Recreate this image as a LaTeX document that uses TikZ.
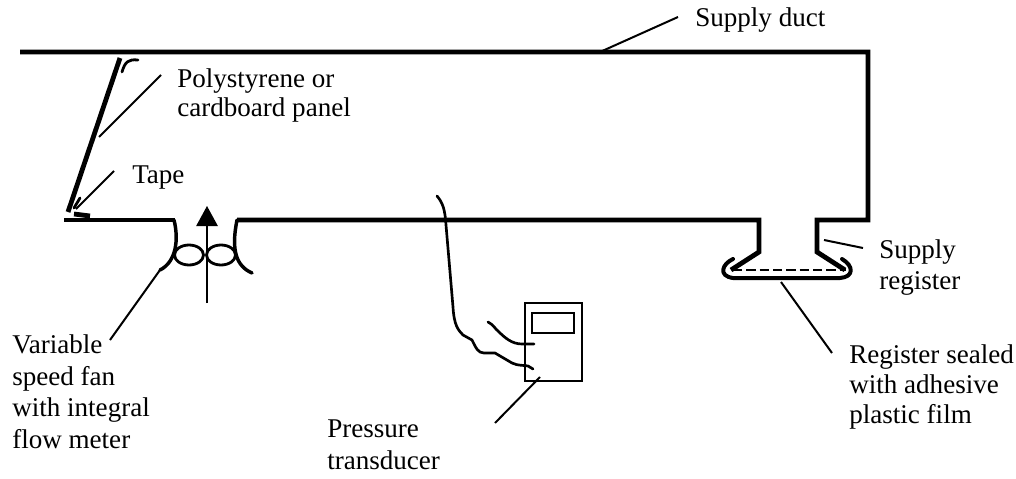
\documentclass[tikz,border=0pt]{standalone}
\usepackage{fontspec}
\setmainfont{Liberation Serif}
\usetikzlibrary{arrows.meta}
\tikzset{
  wall/.style={line width=3.6pt,line join=miter,line cap=butt},
  thin wall/.style={line width=2.1pt,line cap=round,line join=round},
  leader/.style={line width=1.5pt},
  wire/.style={line width=2pt,line join=round,line cap=round},
  lab/.style={anchor=base west,inner sep=0pt,align=left,font=\fontsize{20.3}{23.6}\selectfont},
}
\begin{document}
\begin{tikzpicture}[x=0.75pt,y=-0.75pt]
\useasboundingbox (0,0) rectangle (1016,478);
% labels
\node[lab] (duct) at (695,27) {Supply duct};
\node[lab,font=\fontsize{20.3}{21.75}\selectfont] (panel) at (177,116) {Polystyrene or\\cardboard panel};
\node[lab] (tape) at (132,183) {Tape};
\node[lab] (fan) at (12,448) {Variable\\speed fan\\with integral\\flow meter};
\node[lab,font=\fontsize{20.3}{24}\selectfont] (press) at (327,469) {Pressure\\transducer};
\node[lab,font=\fontsize{20.3}{23.25}\selectfont] (register) at (879,289) {Supply\\register};
\node[lab,font=\fontsize{20.3}{22.5}\selectfont] (sealed) at (849,423) {Register sealed\\with adhesive\\plastic film};
% duct
\draw[wall] (20,52) -- (868,52) -- (868,220) -- (817,220) -- (817,252) -- (845,270);
\draw[wall] (64,220) -- (175,220);
\draw[wall] (237,220) -- (759,220) -- (759,252) -- (731,270);
% register
\draw[thin wall,line width=3pt] (733,259) .. controls (722,264) and (718,276) .. (733,278) -- (840,278) .. controls (854,277) and (854,266) .. (842,259);
\draw[line width=2pt,dash pattern=on 7pt off 3pt] (733,270) -- (846,270);
% panel
\draw[wall] (120,58) -- (68,212);
\draw[thin wall] (138,60) .. controls (128,59) and (125,62) .. (122,72);
\draw[thin wall] (80,198) -- (74,208);
\draw[wall] (74,214) -- (90,216);
% fan
\draw[thin wall,line width=2.6pt] (174,220) .. controls (179,240) and (176,262) .. (160,270);
\draw[thin wall,line width=2.6pt] (237,220) .. controls (231,250) and (236,266) .. (252,273);
\draw[thin wall] (189,255) ellipse (14.5 and 10);
\draw[thin wall] (221,255) ellipse (14.5 and 10);
\coordinate (fanTail) at (207,303);
\coordinate (fanTip) at (207,206);
\draw[line width=1.3pt,-{Triangle[length=15pt,width=16pt]}] (fanTail) -- (fanTip);
% transducer
\draw[line width=1.9pt] (525,303) rectangle (582,381);
\draw[line width=1.9pt] (532,313) rectangle (574,333);
\draw[wire] (437,196) .. controls (443,203) and (445,210) .. (446,225) -- (453,307) .. controls (454,325) and (458,330) .. (463,335) -- (472,340) .. controls (476,348) and (478,353) .. (484,353) -- (495,353) -- (512,363) .. controls (518,366) and (524,365) .. (528,366) -- (533,369);
\draw[wire] (488,322) .. controls (494,325) and (495,329) .. (498,331) .. controls (505,338) and (512,344) .. (522,344) -- (534,344);
% leaders
\coordinate (ductEnd) at (678,17);
\coordinate (ductHit) at (600,52);
\draw[leader] (ductEnd) -- (ductHit);
\coordinate (panelEnd) at (161,75);
\coordinate (panelHit) at (99,137);
\draw[leader] (panelEnd) -- (panelHit);
\coordinate (tapeEnd) at (114,171);
\coordinate (tapeHit) at (76,209);
\draw[leader] (tapeEnd) -- (tapeHit);
\coordinate (fanEnd) at (110,340);
\coordinate (fanHit) at (160,270);
\draw[leader] (fanEnd) -- (fanHit);
\coordinate (pressEnd) at (495,423);
\coordinate (pressHit) at (540,377);
\draw[leader] (pressEnd) -- (pressHit);
\coordinate (regEnd) at (863,248);
\coordinate (regHit) at (824,240);
\draw[leader] (regEnd) -- (regHit);
\coordinate (sealEnd) at (832,353);
\coordinate (sealHit) at (781,282);
\draw[leader] (sealEnd) -- (sealHit);
\end{tikzpicture}
\end{document}
